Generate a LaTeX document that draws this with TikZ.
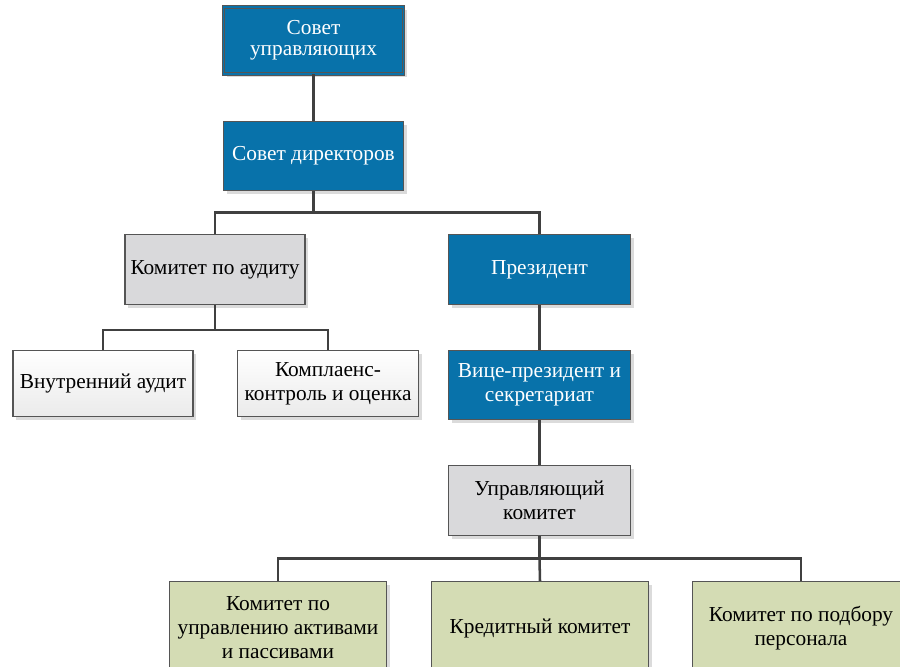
\documentclass[tikz,border=0pt]{standalone}
\usepackage{fontspec}
\setmainfont{Liberation Serif}
\usetikzlibrary{shadows}
\definecolor{bblue}{HTML}{0872AA}
\definecolor{bgray}{HTML}{D9D9DB}
\definecolor{bgreen}{HTML}{D4DCB4}
\definecolor{bline}{HTML}{404040}
\definecolor{bedge}{HTML}{555555}
\tikzset{
  box/.style={draw=bedge, line width=0.8pt, align=center, inner sep=2pt,
    font=\fontsize{16}{18}\selectfont,
    drop shadow={shadow xshift=2.5pt, shadow yshift=-2.5pt, fill=black!14, opacity=1}},
  bluebox/.style={box, fill=bblue, text=white},
  graybox/.style={box, fill=bgray, text=black},
  whitebox/.style={box, top color=white, bottom color=black!8, text=black},
  greenbox/.style={box, fill=bgreen, text=black},
  conn/.style={draw=bline, line width=1.9pt}
}
\begin{document}
\begin{tikzpicture}[x=0.75pt, y=-0.75pt]
\path[use as bounding box, clip] (0,0) rectangle (900,667);
\fill[white] (0,0) rectangle (900,667);
% nodes
\node[bluebox, minimum width=135pt, minimum height=50pt, double=bblue, double distance=1.4pt, line width=0.7pt, font=\fontsize{16}{16}\selectfont] (sovu) at (313.5,40.5) {Совет\\управляющих};
\node[bluebox, minimum width=135pt, minimum height=52pt] (sovd) at (313.5,156) {Совет директоров};
\node[graybox, minimum width=135pt, minimum height=52pt] (audc) at (215,269.5) {Комитет по аудиту};
\node[bluebox, minimum width=137pt, minimum height=52pt] (pres) at (539.5,269.5) {Президент};
\node[whitebox, minimum width=135pt, minimum height=49.5pt] (vnau) at (103,383.5) {Внутренний аудит};
\node[whitebox, minimum width=136pt, minimum height=49.5pt] (komp) at (328,383.5) {Комплаенс-\\контроль и оценка};
\node[bluebox, minimum width=137pt, minimum height=52pt] (vice) at (539.5,385) {Вице-президент и\\секретариат};
\node[graybox, minimum width=137pt, minimum height=52pt] (upr) at (539.5,500.5) {Управляющий\\комитет};
\node[greenbox, minimum width=163pt, minimum height=70pt] (akt) at (278,628) {Комитет по\\управлению активами\\и пассивами};
\node[greenbox, minimum width=163pt, minimum height=70pt] (kred) at (540,628) {Кредитный комитет};
\node[greenbox, minimum width=163pt, minimum height=70pt] (pers) at (801,628) {Комитет по подбору\\персонала};
% connectors
\draw[conn] (sovu.south) -- (sovd.north);
\draw[conn] (sovd.south) -- ++(0,21.5) coordinate (j1);
\draw[conn] (audc.north) |- (j1) -| (pres.north);
\draw[conn] (audc.south) -- ++(0,25.5) coordinate (j2);
\draw[conn] (vnau.north) |- (j2) -| (komp.north);
\draw[conn] (pres.south) -- (vice.north);
\draw[conn] (vice.south) -- (upr.north);
\draw[conn] (upr.south) -- ++(0,23) coordinate (j3);
\draw[conn] (akt.north) |- (j3) -| (pers.north);
\draw[conn] (j3) -- (kred.north);
\end{tikzpicture}
\end{document}
